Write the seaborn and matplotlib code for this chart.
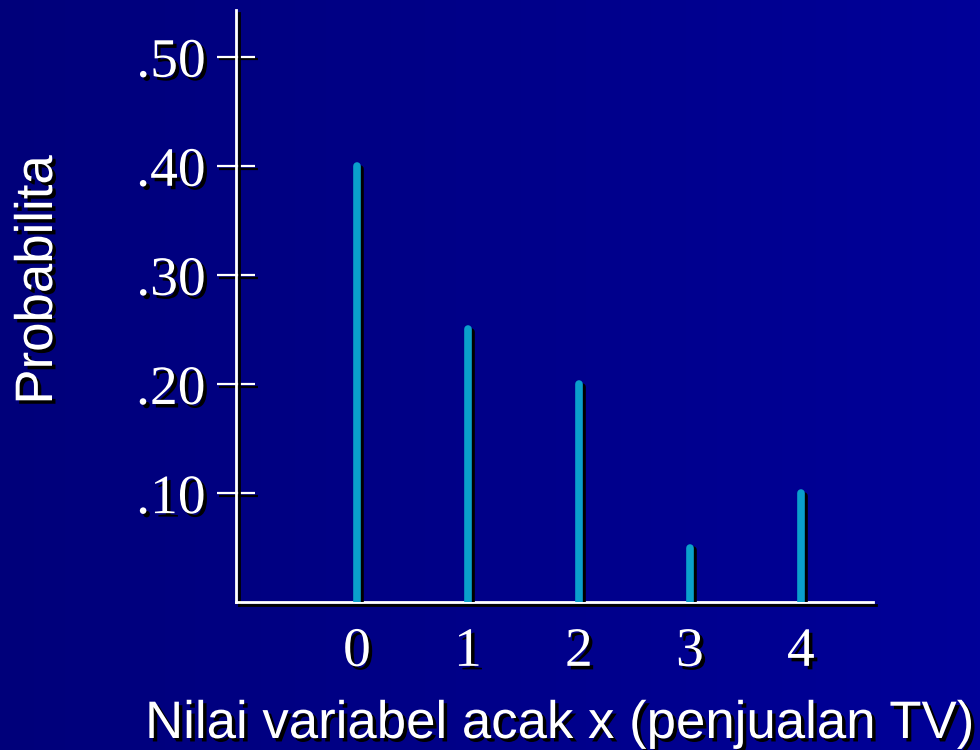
import numpy as np
import matplotlib
matplotlib.use("Agg")
import matplotlib.pyplot as plt
import matplotlib.patheffects as pe
from matplotlib.colors import LinearSegmentedColormap
import seaborn as sns

# data
x_vals = [0, 1, 2, 3, 4]
probs = [0.40, 0.25, 0.20, 0.05, 0.10]
y_ticks = [0.10, 0.20, 0.30, 0.40, 0.50]
y_labels = ['.10', '.20', '.30', '.40', '.50']

sns.set_style("white")
plt.rcParams['font.family'] = ['Liberation Serif', 'DejaVu Serif']

fig = plt.figure(figsize=(9.8, 7.5), dpi=100)

# background gradient, dark navy to blue
bg = fig.add_axes([0, 0, 1, 1], zorder=-10)
cmap = LinearSegmentedColormap.from_list('bg', ['#00007a', '#000098'])
grad = np.linspace(0, 1, 256).reshape(1, -1)
bg.imshow(grad, aspect='auto', cmap=cmap, extent=[0, 1, 0, 1])
bg.axis('off')

ax = fig.add_axes([0.2408, 0.197, 0.65, 0.79])
ax.set_facecolor('none')

shadow_line = [pe.SimpleLineShadow(offset=(2, -2), shadow_color='black', alpha=1), pe.Normal()]
shadow_txt = [pe.withSimplePatchShadow(offset=(2.5, -2.5), shadow_rgbFace='black', alpha=1)]

ax.vlines(x_vals, 0, probs, colors='#0a9fcc', linewidth=5.5, capstyle='round',
          path_effects=shadow_line, zorder=3)

ax.set_xlim(-1.09, 4.65)
ax.set_ylim(0, 0.543)

sns.despine(ax=ax)
for side in ['left', 'bottom']:
    ax.spines[side].set_color('white')
    ax.spines[side].set_linewidth(2)
    ax.spines[side].set_path_effects(shadow_line)

ax.set_yticks(y_ticks)
ax.set_yticklabels(y_labels)
ax.set_xticks(x_vals)
ax.set_xticklabels([str(v) for v in x_vals])
ax.tick_params(axis='y', direction='inout', length=28, width=1.6, color='white',
               pad=8, labelsize=40, labelcolor='white', left=True)
ax.tick_params(axis='x', length=0, pad=17, labelsize=40, labelcolor='white')
for lbl in ax.get_xticklabels() + ax.get_yticklabels():
    lbl.set_path_effects(shadow_txt)
for t in ax.yaxis.get_ticklines():
    t.set_path_effects(shadow_line)

fig.text(38 / 980, 1 - 280 / 750, 'Probabilita', rotation=90, ha='center', va='center',
         color='white', fontsize=38, family=['Liberation Sans', 'DejaVu Sans'],
         path_effects=shadow_txt)
fig.text(559 / 980, 1 - 724 / 750, 'Nilai variabel acak x (penjualan TV)', ha='center',
         va='center', color='white', fontsize=38, family=['Liberation Sans', 'DejaVu Sans'],
         path_effects=shadow_txt)

fig.savefig('out.png', dpi=100)
